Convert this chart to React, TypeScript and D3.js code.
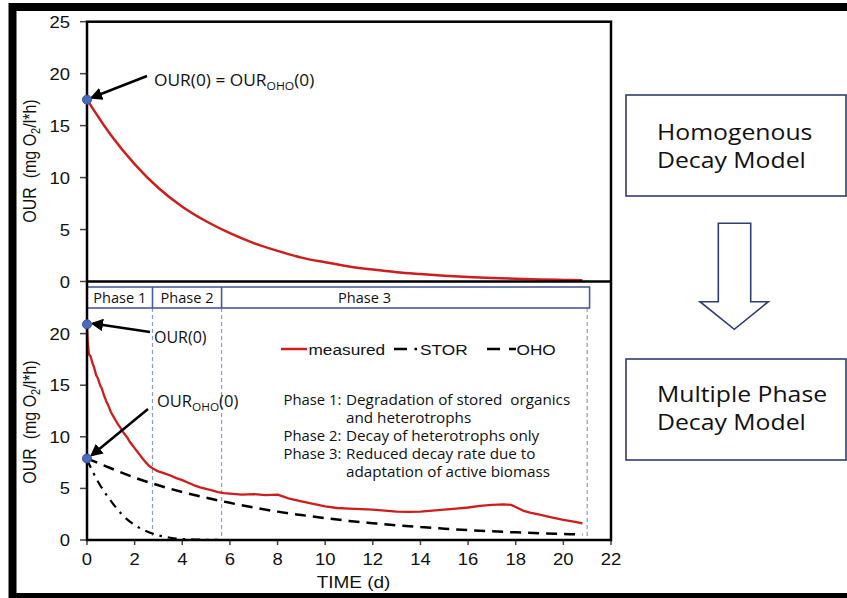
import React from 'react';
import * as d3 from 'd3';

// ---------- data ----------
const timeTicks = [0, 2, 4, 6, 8, 10, 12, 14, 16, 18, 20, 22];
const topYTicks = [0, 5, 10, 15, 20, 25];
const bottomYTicks = [0, 5, 10, 15, 20];

// Homogenous decay model (top panel), [time d, OUR]
const homogeneousDecay: [number, number][] = [
  [0, 17.5], [1, 14.1], [2, 11.3], [3, 9.0], [4, 7.2], [5, 5.8], [6, 4.65], [7, 3.7],
  [8, 2.95], [9, 2.3], [10, 1.85], [11, 1.45], [12, 1.15], [13, 0.9], [14, 0.72],
  [15, 0.56], [16, 0.44], [17, 0.34], [18, 0.26], [19, 0.2], [20, 0.15], [20.8, 0.12],
];

// Measured OUR (bottom panel)
const measured: [number, number][] = [
  [0, 20.9], [0.03, 19.2], [0.08, 18.0], [0.15, 17.8], [0.22, 17.2], [0.3, 16.7], [0.38, 16.0],
  [0.45, 15.7], [0.55, 15.0], [0.62, 14.7], [0.7, 14.1], [0.8, 13.5], [0.9, 13.0], [1.0, 12.4],
  [1.1, 12.0], [1.2, 11.6], [1.3, 11.2], [1.4, 10.9], [1.5, 10.5], [1.6, 10.2], [1.7, 9.9],
  [1.8, 9.5], [1.9, 9.2], [2.0, 8.9], [2.1, 8.6], [2.2, 8.3], [2.3, 8.0], [2.4, 7.7],
  [2.5, 7.45], [2.6, 7.2], [2.75, 6.95], [2.9, 6.75], [3.0, 6.65], [3.25, 6.45], [3.5, 6.25],
  [3.75, 6.0], [4.0, 5.8], [4.25, 5.55], [4.5, 5.3], [4.75, 5.1], [5.0, 4.95], [5.25, 4.8],
  [5.5, 4.65], [5.75, 4.55], [6.0, 4.5], [6.5, 4.4], [7.0, 4.45], [7.5, 4.35], [8.0, 4.4],
  [8.25, 4.2], [8.5, 4.0], [9.0, 3.75], [9.5, 3.5], [10.0, 3.25], [10.5, 3.1], [11.0, 3.05],
  [11.5, 3.0], [12.0, 2.95], [12.5, 2.85], [13.0, 2.75], [13.5, 2.72], [14.0, 2.75],
  [14.5, 2.85], [15.0, 2.95], [15.5, 3.05], [16.0, 3.15], [16.5, 3.3], [17.0, 3.4],
  [17.5, 3.45], [17.8, 3.4], [18.0, 3.2], [18.3, 2.85], [18.6, 2.65], [19.0, 2.45],
  [19.5, 2.2], [20.0, 1.95], [20.5, 1.75], [20.8, 1.6],
];

// STOR component (dash-dot)
const storDecay: [number, number][] = [
  [0, 7.8], [0.5, 5.5], [1, 3.8], [1.5, 2.4], [2, 1.45], [2.5, 0.85], [3, 0.45],
  [3.5, 0.22], [4, 0.1], [4.5, 0.05], [5, 0.02], [5.5, 0.01],
];

// OHO component (dashed)
const ohoDecay: [number, number][] = [
  [0, 7.9], [1, 6.95], [2, 6.05], [3, 5.3], [4, 4.65], [5, 4.1], [6, 3.6], [7, 3.15],
  [8, 2.75], [9, 2.42], [10, 2.12], [11, 1.85], [12, 1.63], [13, 1.42], [14, 1.25],
  [15, 1.1], [16, 0.96], [17, 0.84], [18, 0.74], [19, 0.65], [20, 0.58], [20.8, 0.53],
];

const phaseBounds = [2.75, 5.65, 21.0];
const phaseBoxEnd = 21.1;
const phaseLabels = ['Phase 1', 'Phase 2', 'Phase 3'];
const phaseNotes: [string, string][] = [
  ['Phase 1:', 'Degradation of stored  organics'],
  ['', 'and heterotrophs'],
  ['Phase 2:', 'Decay of heterotrophs only'],
  ['Phase 3:', 'Reduced decay rate due to'],
  ['', 'adaptation of active biomass'],
];
const legendLabels = ['measured', 'STOR', 'OHO'];
const modelBoxes: string[][] = [
  ['Homogenous', 'Decay Model'],
  ['Multiple Phase', 'Decay Model'],
];
const startTop = 17.5;
const startBottom = 20.9;
const startOho = 7.9;

// ---------- styling ----------
const ARIAL = "'Liberation Sans', Arial, sans-serif";
const CAL = "'Open Sans', sans-serif";
const RED = '#cf1d1d';
const NAVY = '#2f3d72';

function ST(props: any) {
  const { x, y, sx = 1, anchor = 'start', size, family, fill = '#111', children } = props;
  return (
    <text
      transform={`translate(${x},${y}) scale(${sx},1)`}
      textAnchor={anchor}
      fontSize={size}
      fontFamily={family}
      fill={fill}
      style={{ whiteSpace: 'pre' }}
    >
      {children}
    </text>
  );
}

export default function App() {
  const W = 847;
  const H = 598;
  const x = d3.scaleLinear().domain([0, 22]).range([87, 611]);
  const yTop = d3.scaleLinear().domain([0, 25]).range([281.5, 21.7]);
  const yBot = d3.scaleLinear().domain([0, 25]).range([540, 282]);

  const lineTop = d3.line<[number, number]>().x((d) => x(d[0])).y((d) => yTop(d[1])).curve(d3.curveMonotoneX);
  const lineBotSmooth = d3.line<[number, number]>().x((d) => x(d[0])).y((d) => yBot(d[1])).curve(d3.curveMonotoneX);
  const lineBot = d3.line<[number, number]>().x((d) => x(d[0])).y((d) => yBot(d[1]));

  const left = x(0);
  const right = x(22);
  const boxTop = 287;
  const boxBot = 308;
  const phaseEdges = [0, ...phaseBounds.slice(0, 2), phaseBoxEnd];
  const phaseLabelX = [
    (x(0) + x(phaseBounds[0])) / 2,
    (x(phaseBounds[0]) + x(phaseBounds[1])) / 2,
    x(11.65),
  ];

  return (
    <svg
      width={W}
      height={H}
      style={{ position: 'absolute', left: 0, top: 0, display: 'block', background: '#fff' }}
    >
      <defs>
        <marker id="ah" viewBox="0 0 10 10" refX="8" refY="5" markerWidth="5" markerHeight="5" orient="auto">
          <path d="M0,0 L10,5 L0,10 z" fill="#000" />
        </marker>
      </defs>
      <rect x={0} y={0} width={W} height={H} fill="#fff" />
      {/* outer black frame */}
      <rect x={12.5} y={7} width={W + 20} height={590} fill="none" stroke="#000" strokeWidth={8} />

      {/* ---------- top panel ---------- */}
      {topYTicks.map((t) => (
        <g key={'tt' + t}>
          <line x1={80} x2={left} y1={yTop(t)} y2={yTop(t)} stroke="#444" strokeWidth={1.5} />
          <ST x={70} y={yTop(t) + 6} anchor="end" size={16.5} sx={1.12} family={ARIAL}>{t}</ST>
        </g>
      ))}
      <path d={lineTop(homogeneousDecay) || ''} fill="none" stroke={RED} strokeWidth={2.5} />

      {/* ---------- bottom panel ---------- */}
      {phaseBounds.map((p) => (
        <line key={'pd' + p} x1={x(p)} x2={x(p)} y1={boxBot} y2={yBot(0) - 2} stroke="#8a9cc8" strokeWidth={1.2} strokeDasharray="4,3" />
      ))}
      <rect x={x(0)} y={boxTop} width={x(phaseBoxEnd) - x(0)} height={boxBot - boxTop} fill="#fff" stroke="#4a5b9c" strokeWidth={1.6} />
      {phaseEdges.slice(1, 3).map((p) => (
        <line key={'pe' + p} x1={x(p)} x2={x(p)} y1={boxTop} y2={boxBot} stroke="#4a5b9c" strokeWidth={1.6} />
      ))}
      {phaseLabels.map((l, i) => (
        <ST key={l} x={phaseLabelX[i]} y={303} anchor="middle" size={14} sx={1.04} family={CAL}>{l}</ST>
      ))}

      {bottomYTicks.map((t) => (
        <g key={'bt' + t}>
          <line x1={80} x2={left} y1={yBot(t)} y2={yBot(t)} stroke="#444" strokeWidth={1.5} />
          <ST x={70} y={yBot(t) + 6} anchor="end" size={16.5} sx={1.12} family={ARIAL}>{t}</ST>
        </g>
      ))}
      {timeTicks.map((t) => (
        <g key={'xt' + t}>
          <line x1={x(t)} x2={x(t)} y1={yBot(0)} y2={yBot(0) + 5} stroke="#444" strokeWidth={1.5} />
          <ST x={x(t)} y={565} anchor="middle" size={16.5} sx={1.12} family={ARIAL}>{t}</ST>
        </g>
      ))}

      <path d={lineBotSmooth(storDecay) || ''} fill="none" stroke="#000" strokeWidth={2.2} strokeDasharray="9,6,2.5,6" />
      <path d={lineBotSmooth(ohoDecay) || ''} fill="none" stroke="#000" strokeWidth={2.5} strokeDasharray="11,7" />
      <path d={lineBot(measured) || ''} fill="none" stroke={RED} strokeWidth={2.3} strokeLinejoin="round" />

      {/* frame lines */}
      <rect x={left} y={yTop(25)} width={right - left} height={yBot(0) - yTop(25)} fill="none" stroke="#000" strokeWidth={2.5} />
      <line x1={left} x2={right} y1={yTop(0)} y2={yTop(0)} stroke="#000" strokeWidth={2.5} />

      {/* legend */}
      <line x1={281} x2={307} y1={349} y2={349} stroke={RED} strokeWidth={2.5} />
      <ST x={308.5} y={354.5} size={15} sx={1.15} family={ARIAL}>{legendLabels[0]}</ST>
      <line x1={394} x2={418} y1={349} y2={349} stroke="#000" strokeWidth={2.5} strokeDasharray="13,7.5,2.5,10" />
      <ST x={420} y={354.5} size={15} sx={1.15} family={ARIAL}>{legendLabels[1]}</ST>
      <line x1={487} x2={516} y1={349} y2={349} stroke="#000" strokeWidth={2.5} strokeDasharray="13,9" />
      <ST x={516.5} y={354.5} size={15} sx={1.15} family={ARIAL}>{legendLabels[2]}</ST>

      {/* phase notes */}
      {phaseNotes.map((n, i) => (
        <g key={'pn' + i}>
          {n[0] && <ST x={283.5} y={405 + i * 18} size={14} sx={1.06} family={CAL}>{n[0]}</ST>}
          <ST x={346} y={405 + i * 18} size={14} sx={1.09} family={CAL}>{n[1]}</ST>
        </g>
      ))}

      {/* annotations: arrows + dots */}
      <line x1={147} y1={76} x2={92} y2={97.5} stroke="#000" strokeWidth={2.5} markerEnd="url(#ah)" />
      <line x1={150} y1={332} x2={93} y2={323.5} stroke="#000" strokeWidth={2.5} markerEnd="url(#ah)" />
      <line x1={148} y1={409} x2={92} y2={455} stroke="#000" strokeWidth={2.5} markerEnd="url(#ah)" />

      <circle cx={x(0)} cy={yTop(startTop)} r={4.5} fill="#4a6cc0" stroke="#34509a" strokeWidth={1} />
      <circle cx={x(0)} cy={yBot(startBottom)} r={4.5} fill="#4a6cc0" stroke="#34509a" strokeWidth={1} />
      <circle cx={x(0)} cy={yBot(startOho)} r={4.5} fill="#4a6cc0" stroke="#34509a" strokeWidth={1} />

      <ST x={154} y={86} size={16.5} sx={1.05} family={CAL}>
        OUR(0) = OUR<tspan fontSize={11.5} dy={4}>OHO</tspan><tspan dy={-4}>(0)</tspan>
      </ST>
      <ST x={154} y={343} size={16} family={CAL}>OUR(0)</ST>
      <ST x={157} y={406.5} size={16} sx={1.03} family={CAL}>
        OUR<tspan fontSize={11.5} dy={4}>OHO</tspan><tspan dy={-4}>(0)</tspan>
      </ST>

      {/* axis titles */}
      <g transform={`translate(36,161) scale(1.12,1) rotate(-90)`}>
        <text textAnchor="middle" fontSize={16} fontFamily={ARIAL} fill="#111" style={{ whiteSpace: 'pre' }}>
          OUR  (mg O<tspan fontSize={11} dy={4}>2</tspan><tspan dy={-4}>/l*h)</tspan>
        </text>
      </g>
      <g transform={`translate(36,422) scale(1.12,1) rotate(-90)`}>
        <text textAnchor="middle" fontSize={16} fontFamily={ARIAL} fill="#111" style={{ whiteSpace: 'pre' }}>
          OUR  (mg O<tspan fontSize={11} dy={4}>2</tspan><tspan dy={-4}>/l*h)</tspan>
        </text>
      </g>
      <ST x={353.5} y={588} anchor="middle" size={16.5} sx={1.15} family={ARIAL}>TIME (d)</ST>

      {/* right side model boxes */}
      <rect x={626} y={95} width={220} height={101} fill="#fff" stroke={NAVY} strokeWidth={1.6} />
      <ST x={657} y={140} size={21} sx={1.18} family={CAL}>{modelBoxes[0][0]}</ST>
      <ST x={657} y={168} size={21} sx={1.18} family={CAL}>{modelBoxes[0][1]}</ST>
      <polygon
        points="718.3,223.3 750.7,223.3 750.7,301.7 768.3,301.7 734.3,329.3 700,301.7 718.3,301.7"
        fill="#fff"
        stroke={NAVY}
        strokeWidth={1.6}
      />
      <rect x={626} y={359} width={220} height={101} fill="#fff" stroke={NAVY} strokeWidth={1.6} />
      <ST x={657} y={402} size={21} sx={1.18} family={CAL}>{modelBoxes[1][0]}</ST>
      <ST x={657} y={430} size={21} sx={1.18} family={CAL}>{modelBoxes[1][1]}</ST>
    </svg>
  );
}
